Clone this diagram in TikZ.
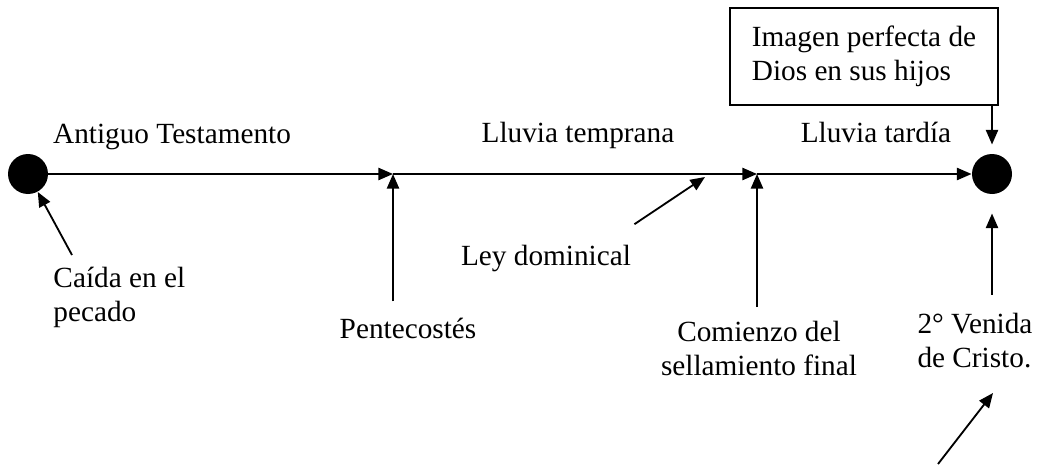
\documentclass[tikz,border=0pt]{standalone}
\usepackage{fontspec}
\setmainfont{Liberation Serif}
\usepackage{tikz}
\usetikzlibrary{arrows.meta}

\begin{document}
\begin{tikzpicture}[x=0.41pt, y=-0.41pt]
    % Define styles
    \tikzstyle{punto} = [circle, fill=black, minimum size=16.4pt, inner sep=0pt]
    \tikzstyle{etiqueta} = [inner sep=0pt, font=\fontsize{12}{13.8}\selectfont]
    \tikzstyle{caja} = [rectangle, draw, line width=0.75pt, minimum width=109.9pt, minimum height=39.8pt, align=left, inner sep=0pt, font=\fontsize{12}{13.8}\selectfont]
    \tikzstyle{flecha} = [-{Triangle[length=6pt, width=5pt]}, line width=0.75pt]

    \useasboundingbox (0,0) rectangle (1038,464);

    % Timeline points
    \node[punto] (inicio) at (28,174) {};
    \node[punto] (fin) at (992,174) {};
    \coordinate (pent) at (393,174);
    \coordinate (sella) at (757,174);
    \coordinate (ley) at (705,177);

    % Periods
    \node[etiqueta, anchor=base] (antiguo) at (172,143) {Antiguo Testamento};
    \node[etiqueta, anchor=base] (temprana) at (578,142) {Lluvia temprana};
    \node[etiqueta, anchor=base] (tardia) at (876,142) {Lluvia tard\'ia};

    % Box
    \node[caja] (imagen) at (864,56.5) {Imagen perfecta de\\Dios en sus hijos};

    % Events
    \node[etiqueta, anchor=north west, align=left] (caida) at (53,267) {Ca\'ida en el\\pecado};
    \node[etiqueta, anchor=base] (pentecostes) at (408,338) {Pentecost\'es};
    \node[etiqueta, anchor=base] (dominical) at (546,265) {Ley dominical};
    \node[etiqueta, anchor=north, align=center] (comienzo) at (759,321) {Comienzo del\\sellamiento final};
    \node[etiqueta, anchor=north west, align=left] (venida) at (917,313) {2° Venida\\de Cristo.};
    \coordinate (cola) at (938,464);
    \coordinate (punta) at (993,393);

    % Arrows
    \draw[flecha] (inicio) -- (pent);
    \draw[flecha] (pent) -- (sella);
    \draw[flecha] (sella) -- (fin);
    \draw[flecha, shorten >=3.7pt] (imagen.south -| fin) -- (fin.north);
    \draw[flecha] ([shift={(19,-12)}]caida.north west) -- (inicio);
    \draw[flecha, shorten <=6.5pt] (pentecostes.north -| pent) -- (pent);
    \draw[flecha] ([shift={(3,-20)}]dominical.north east) -- (ley);
    \draw[flecha, shorten <=5.7pt] (comienzo.north -| sella) -- (sella);
    \draw[flecha, shorten <=7.4pt, shorten >=7.8pt] (venida.north -| fin) -- (fin);
    \draw[flecha] (cola) -- (punta);
\end{tikzpicture}
\end{document}
